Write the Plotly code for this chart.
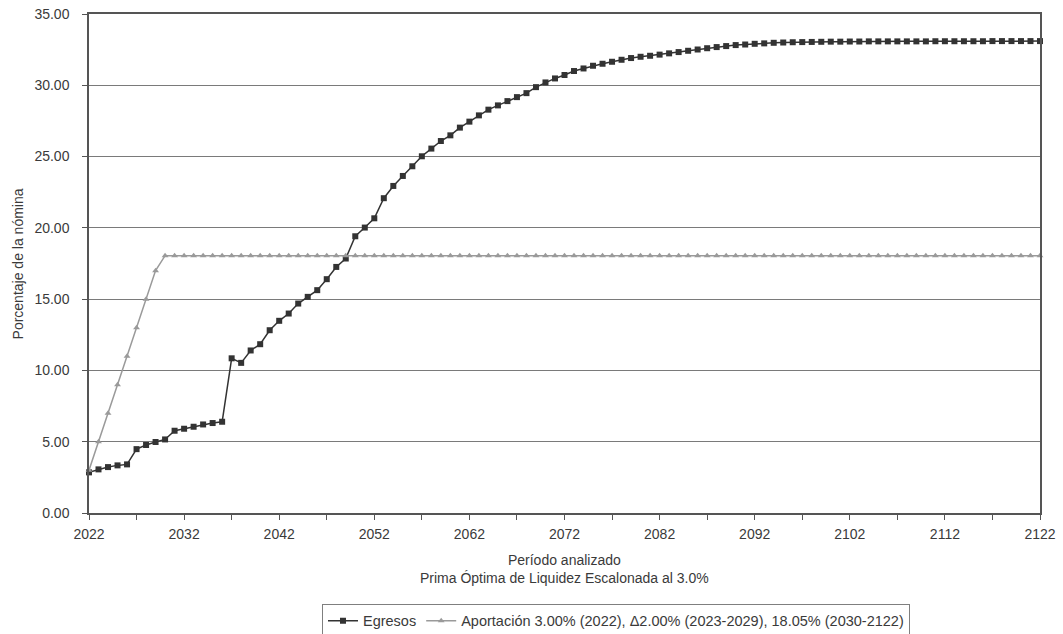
import plotly.graph_objects as go

# Years analysed
years = list(range(2022, 2123))

# Egresos (% de la nómina)
egresos = [
    2.85, 3.06, 3.22, 3.34, 3.41, 4.48, 4.77, 4.98, 5.16, 5.77,
    5.91, 6.05, 6.21, 6.31, 6.40, 10.85, 10.53, 11.40, 11.84, 12.82,
    13.48, 13.99, 14.69, 15.16, 15.63, 16.40, 17.26, 17.85, 19.41, 20.02,
    20.67, 22.08, 22.94, 23.64, 24.32, 25.02, 25.56, 26.09, 26.49, 27.03,
    27.45, 27.89, 28.29, 28.59, 28.89, 29.17, 29.45, 29.87, 30.20, 30.48,
    30.72, 31.00, 31.18, 31.37, 31.51, 31.65, 31.79, 31.91, 32.00, 32.07,
    32.15, 32.24, 32.33, 32.42, 32.51, 32.60, 32.68, 32.75, 32.82, 32.86,
    32.91, 32.94, 32.98, 33.00, 33.02, 33.03, 33.04, 33.05, 33.06, 33.06,
    33.07, 33.07, 33.08, 33.08, 33.08, 33.08, 33.08, 33.08, 33.08, 33.09,
    33.09, 33.09, 33.09, 33.09, 33.09, 33.10, 33.10, 33.10, 33.10, 33.10,
    33.10,
]

# Aportación: 3.00% (2022), +2.00 per year (2023-2029), 18.05% (2030-2122)
aportacion = [
    3.00, 5.00, 7.00, 9.00, 11.00, 13.00, 15.00, 17.00, 18.05, 18.05,
    18.05, 18.05, 18.05, 18.05, 18.05, 18.05, 18.05, 18.05, 18.05, 18.05,
    18.05, 18.05, 18.05, 18.05, 18.05, 18.05, 18.05, 18.05, 18.05, 18.05,
    18.05, 18.05, 18.05, 18.05, 18.05, 18.05, 18.05, 18.05, 18.05, 18.05,
    18.05, 18.05, 18.05, 18.05, 18.05, 18.05, 18.05, 18.05, 18.05, 18.05,
    18.05, 18.05, 18.05, 18.05, 18.05, 18.05, 18.05, 18.05, 18.05, 18.05,
    18.05, 18.05, 18.05, 18.05, 18.05, 18.05, 18.05, 18.05, 18.05, 18.05,
    18.05, 18.05, 18.05, 18.05, 18.05, 18.05, 18.05, 18.05, 18.05, 18.05,
    18.05, 18.05, 18.05, 18.05, 18.05, 18.05, 18.05, 18.05, 18.05, 18.05,
    18.05, 18.05, 18.05, 18.05, 18.05, 18.05, 18.05, 18.05, 18.05, 18.05,
    18.05,
]

tick_years = list(range(2022, 2123, 10))

font_family = "Liberation Sans, Arial, sans-serif"
text_color = "#3a3a3a"

fig = go.Figure()
fig.add_trace(
    go.Scatter(
        x=years,
        y=egresos,
        name="Egresos",
        mode="lines+markers",
        line=dict(color="#333333", width=1.5),
        marker=dict(symbol="square", size=6, color="#333333"),
        cliponaxis=False,
    )
)
fig.add_trace(
    go.Scatter(
        x=years,
        y=aportacion,
        name="Aportación 3.00% (2022), Δ2.00% (2023-2029), 18.05% (2030-2122)",
        mode="lines+markers",
        line=dict(color="#9a9a9a", width=1.5),
        marker=dict(symbol="triangle-up", size=6, color="#9a9a9a"),
        cliponaxis=False,
    )
)

fig.update_layout(
    width=1063,
    height=634,
    margin=dict(l=89, r=23, t=14, b=121, autoexpand=False),
    paper_bgcolor="white",
    plot_bgcolor="white",
    font=dict(family=font_family, size=14, color=text_color),
    showlegend=True,
    legend=dict(
        orientation="h",
        x=0.245,
        xanchor="left",
        y=-0.182,
        yanchor="top",
        bordercolor="#7f7f7f",
        borderwidth=1,
        font=dict(size=14.5),
        itemwidth=30,
        tracegroupgap=0,
    ),
    annotations=[
        dict(
            text="Período analizado<br>Prima Óptima de Liquidez Escalonada al 3.0%",
            xref="paper", yref="paper",
            x=0.5, y=-0.075,
            xanchor="center", yanchor="top",
            showarrow=False,
            font=dict(size=14),
        ),
        dict(
            text="Porcentaje de la nómina",
            xref="paper", yref="paper",
            x=-0.0747, y=0.5,
            xanchor="center", yanchor="middle",
            textangle=-90,
            showarrow=False,
            font=dict(size=14),
        ),
    ],
)

fig.update_xaxes(
    range=[2022, 2122],
    tickvals=tick_years,
    ticktext=[str(t) for t in tick_years],
    ticks="outside",
    ticklen=5,
    tickcolor="#555555",
    ticklabelstandoff=2,
    minor=dict(dtick=5, tick0=2022, ticks="outside", ticklen=5, tickcolor="#555555", showgrid=False),
    showgrid=False,
    zeroline=False,
    showline=True,
    linecolor="#555555",
    linewidth=1.5,
    mirror=True,
    automargin=False,
)

fig.update_yaxes(
    range=[0, 35],
    dtick=5,
    tickformat=".2f",
    ticks="outside",
    ticklen=5,
    tickcolor="#555555",
    ticklabelstandoff=10,
    showgrid=True,
    gridcolor="#7a7a7a",
    gridwidth=1,
    zeroline=False,
    showline=True,
    linecolor="#555555",
    linewidth=1.5,
    mirror=True,
    automargin=False,
)

fig.write_html(
    "out.html",
    config={"displayModeBar": False},
    post_script="document.body.style.margin='0px';document.body.style.overflow='hidden';",
)
